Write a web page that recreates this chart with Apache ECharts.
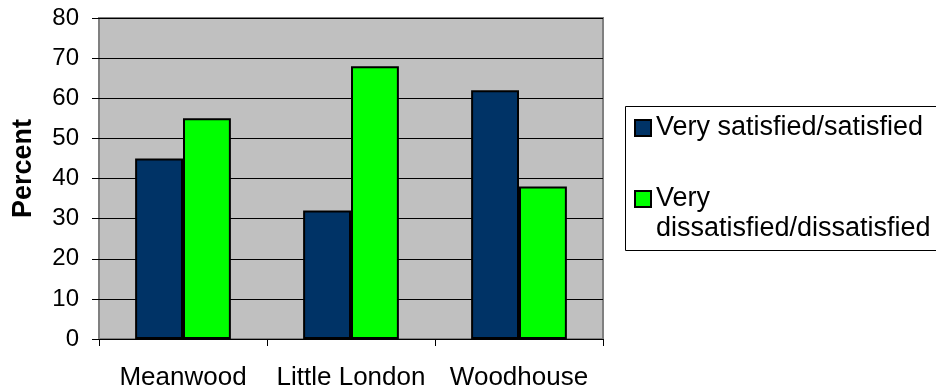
<!DOCTYPE html>
<html>
<head>
<meta charset="utf-8">
<script src="https://cdn.jsdelivr.net/npm/echarts@6/dist/echarts.min.js"></script>
<style>
  html, body { margin: 0; padding: 0; background: #fff; }
  #main { width: 936px; height: 391px; }
</style>
</head>
<body>
<div id="main"></div>
<script>
var categories = ['Meanwood', 'Little London', 'Woodhouse'];
var satisfied = [45, 32, 62];
var dissatisfied = [55, 68, 38];
var seriesNames = ['Very satisfied/satisfied', 'Very dissatisfied/dissatisfied'];

var chart = echarts.init(document.getElementById('main'));
var font = 'Liberation Sans, Arial, sans-serif';

var option = {
  animation: false,
  textStyle: { fontFamily: font },
  grid: {
    left: 99, right: 333, top: 18, bottom: 52,
    show: true,
    backgroundColor: '#c0c0c0',
    borderColor: '#808080',
    borderWidth: 2
  },
  legend: {
    orient: 'vertical',
    left: 634,
    top: 113,
    itemWidth: 16,
    itemHeight: 16,
    itemGap: 11,
    padding: 0,
    icon: 'rect',
    textStyle: { fontFamily: font, fontSize: 27, color: '#000', lineHeight: 30 },
    data: seriesNames,
    formatter: function (name) {
      // empty first line keeps "Very" level with the marker
      return name === seriesNames[1] ? ' \nVery\ndissatisfied/dissatisfied' : name;
    }
  },
  graphic: [{
    type: 'rect',
    shape: { x: 625.5, y: 106.5, width: 400, height: 144 },
    style: { fill: 'none', stroke: '#000', lineWidth: 1 },
    silent: true
  }],
  xAxis: {
    type: 'category',
    data: categories,
    axisLine: { lineStyle: { color: '#000', width: 1 } },
    axisTick: { show: true, length: 7, lineStyle: { color: '#000' } },
    axisLabel: { fontSize: 26, color: '#000', margin: 26, interval: 0, fontFamily: font }
  },
  yAxis: {
    type: 'value',
    min: 0, max: 80, interval: 10,
    name: 'Percent',
    nameLocation: 'middle',
    nameGap: 62,
    nameTextStyle: { fontSize: 27, fontWeight: 'bold', color: '#000', fontFamily: font, padding: [0, 0, 0, 20] },
    axisLine: { show: false },
    axisTick: { show: true, length: 7, lineStyle: { color: '#000' } },
    axisLabel: { fontSize: 24, color: '#000', margin: 20, fontFamily: font },
    splitLine: { lineStyle: { color: '#000', width: 1 } }
  },
  series: [{
    name: seriesNames[0],
    type: 'bar',
    data: satisfied,
    barGap: '0%',
    barCategoryGap: '43%',
    itemStyle: { color: '#003366', borderColor: '#000', borderWidth: 2 }
  }, {
    name: seriesNames[1],
    type: 'bar',
    data: dissatisfied,
    barGap: '0%',
    barCategoryGap: '43%',
    itemStyle: { color: '#00ff00', borderColor: '#000', borderWidth: 2 }
  }]
};

chart.setOption(option);
</script>
</body>
</html>
